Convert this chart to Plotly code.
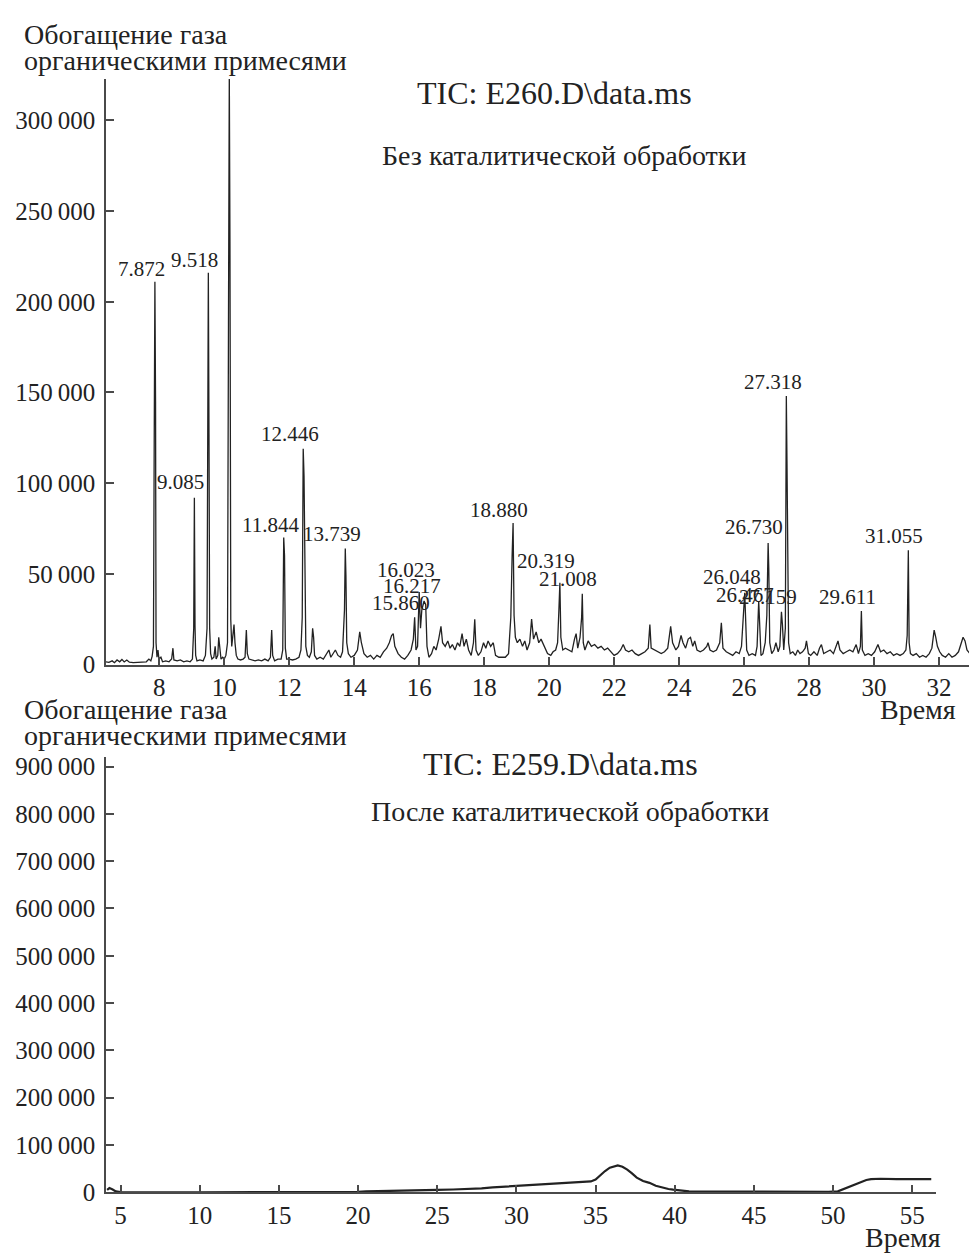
import plotly.graph_objects as go

W, H = 977, 1255
FONT = "Liberation Serif"
INK = "#222222"
AX = "#4a4a4a"

# ---------------- data: top chromatogram (TIC: E260.D) ----------------
# retention time, min
top_time = [
    6.36, 6.45, 6.55, 6.62, 6.70, 6.78, 6.85, 6.92, 7.00, 7.08, 7.20, 7.35, 7.50, 7.60, 7.68, 7.74, 7.78, 7.82,
    7.845, 7.865, 7.885, 7.90, 7.93, 7.96, 7.99, 8.05, 8.10, 8.20, 8.30, 8.38, 8.42, 8.45, 8.55, 8.65, 8.75,
    8.85, 8.95, 9.02, 9.06, 9.08, 9.10, 9.12, 9.16, 9.25, 9.35, 9.42, 9.47, 9.49, 9.51, 9.53, 9.55, 9.58,
    9.62, 9.68, 9.72, 9.75, 9.80, 9.83, 9.86, 9.90, 9.95, 10.00, 10.05, 10.10, 10.13, 10.155, 10.175, 10.20,
    10.23, 10.27, 10.30, 10.33, 10.37, 10.42, 10.50, 10.58, 10.64, 10.68, 10.71, 10.76, 10.85, 10.95, 11.05,
    11.15, 11.25, 11.35, 11.42, 11.46, 11.49, 11.55, 11.65, 11.75, 11.80, 11.83, 11.855, 11.88, 11.92, 12.00,
    12.10, 12.20, 12.30, 12.36, 12.40, 12.43, 12.455, 12.48, 12.51, 12.56, 12.62, 12.68, 12.72, 12.75, 12.78,
    12.85, 12.95, 13.05, 13.15, 13.22, 13.28, 13.35, 13.42, 13.50, 13.58, 13.64, 13.70, 13.725, 13.745, 13.77,
    13.82, 13.90, 14.00, 14.10, 14.17, 14.22, 14.30, 14.40, 14.50, 14.60, 14.70, 14.80, 14.90, 15.00, 15.08,
    15.15, 15.20, 15.25, 15.35, 15.45, 15.55, 15.65, 15.75, 15.82, 15.86, 15.90, 15.95, 16.00, 16.04, 16.08,
    16.15, 16.20, 16.24, 16.30, 16.38, 16.45, 16.52, 16.60, 16.67, 16.72, 16.80, 16.88, 16.95, 17.02, 17.10,
    17.18, 17.25, 17.32, 17.38, 17.45, 17.52, 17.60, 17.67, 17.71, 17.75, 17.82, 17.90, 17.98, 18.05, 18.12,
    18.20, 18.28, 18.35, 18.45, 18.55, 18.65, 18.75, 18.82, 18.86, 18.89, 18.92, 18.96, 19.02, 19.10, 19.18,
    19.25, 19.32, 19.40, 19.46, 19.52, 19.60, 19.68, 19.75, 19.85, 19.95, 20.05, 20.12, 20.20, 20.26, 20.30,
    20.33, 20.36, 20.42, 20.50, 20.60, 20.70, 20.78, 20.83, 20.88, 20.95, 21.00, 21.02, 21.05, 21.10, 21.20,
    21.30, 21.40, 21.50, 21.60, 21.70, 21.80, 21.90, 22.00, 22.10, 22.20, 22.28, 22.35, 22.45, 22.55, 22.65,
    22.75, 22.85, 22.95, 23.05, 23.10, 23.14, 23.25, 23.35, 23.45, 23.55, 23.65, 23.74, 23.80, 23.90, 23.98,
    24.06, 24.12, 24.20, 24.28, 24.35, 24.42, 24.48, 24.55, 24.65, 24.75, 24.85, 24.89, 24.95, 25.05, 25.15,
    25.25, 25.30, 25.35, 25.45, 25.55, 25.65, 25.75, 25.85, 25.92, 25.98, 26.02, 26.04, 26.08, 26.15, 26.25,
    26.35, 26.40, 26.45, 26.48, 26.52, 26.58, 26.65, 26.70, 26.74, 26.76, 26.79, 26.85, 26.92, 26.98, 27.05,
    27.10, 27.15, 27.18, 27.22, 27.27, 27.30, 27.32, 27.34, 27.37, 27.42, 27.50, 27.58, 27.65, 27.72, 27.80,
    27.88, 27.92, 27.98, 28.05, 28.15, 28.25, 28.32, 28.38, 28.45, 28.55, 28.65, 28.75, 28.82, 28.89, 28.95,
    29.05, 29.15, 29.25, 29.35, 29.45, 29.52, 29.58, 29.61, 29.64, 29.72, 29.82, 29.92, 30.02, 30.12, 30.20,
    30.30, 30.40, 30.50, 30.60, 30.70, 30.80, 30.90, 30.98, 31.02, 31.04, 31.055, 31.08, 31.12, 31.20, 31.30,
    31.40, 31.50, 31.60, 31.70, 31.78, 31.85, 31.90, 31.95, 32.02, 32.10, 32.20, 32.30, 32.40, 32.50, 32.60,
    32.68, 32.74, 32.80, 32.86, 32.95, 33.05, 33.15, 33.25, 33.40,
]
# abundance, thousands of counts
top_signal = [
    1.5, 1.2, 2.0, 1.0, 2.5, 1.5, 2.8, 1.4, 2.5, 1.3, 1.0, 1.2, 1.0, 1.5, 3.0, 2.0, 4.5, 10,
    128, 211, 145, 12, 4, 8, 3, 4, 1.5, 2, 1.5, 3, 9, 2.5, 2, 2.5, 1.5,
    2, 1.5, 3, 20, 92, 21, 5, 2, 2.5, 2, 5, 20, 137, 216, 127, 20, 6,
    3, 4, 10, 3, 5, 15, 8, 3, 4, 3, 5, 12, 188, 326, 233, 25,
    10, 16, 22, 12, 5, 3, 2.5, 3, 4, 19, 6, 3, 2.5, 2, 2.5,
    2.0, 3, 2, 4, 19, 5, 2, 3, 3, 8, 70, 60, 9, 3, 3,
    2.5, 3, 4, 8, 26, 119, 104, 36, 10, 5, 4, 7, 20, 15, 5,
    3, 4, 3, 6, 8, 4, 6, 8, 5, 4, 7, 30, 64, 49, 12,
    6, 4, 5, 8, 18, 12, 6, 4, 5, 3, 5, 4, 7, 9, 12,
    16, 17, 10, 6, 4, 3, 5, 8, 14, 26, 8, 10, 40, 20, 30,
    35, 33, 10, 4, 6, 10, 8, 14, 21, 12, 10, 13, 9, 11, 8,
    12, 10, 17, 10, 14, 8, 5, 12, 25, 8, 5, 7, 12, 9, 13,
    10, 12, 5, 4, 4, 4, 6, 26, 60, 78, 27, 15, 12, 14, 10,
    13, 8, 12, 25, 14, 18, 12, 14, 10, 6, 5, 7, 8, 12, 30,
    45, 15, 8, 9, 8, 7, 14, 17, 9, 15, 26, 39, 12, 8, 13,
    10, 11, 9, 10, 8, 9, 7, 5, 6, 8, 11, 8, 7, 8, 6,
    5, 6, 7, 9, 22, 9, 8, 7, 6, 7, 9, 21, 12, 8, 10,
    16, 12, 9, 14, 15, 10, 13, 8, 7, 8, 10, 12, 8, 7, 8,
    12, 23, 9, 7, 6, 5, 7, 6, 10, 25, 39.5, 29, 8, 5, 6,
    5, 10, 35, 20, 5, 6, 12, 27, 67, 53, 12, 6, 8, 12, 7,
    10, 29, 22, 8, 20, 148, 112, 67, 12, 6, 7, 5, 8, 6, 7,
    9, 13, 6, 5, 7, 5, 9, 11, 6, 7, 8, 6, 9, 13, 8,
    6, 7, 8, 7, 11, 6, 10, 29.5, 8, 5, 6, 5, 7, 11, 7,
    8, 6, 7, 5, 6, 5, 6, 8, 16, 45, 63, 12, 6, 5, 6,
    4, 5, 4, 6, 9, 19, 15, 10, 7, 5, 4, 6, 4, 5, 7,
    12, 15, 13, 8, 6, 5, 6, 4, 5,
]

peak_labels = ["7.872", "9.085", "9.518", "11.844", "12.446", "13.739", "15.860", "16.023", "16.217",
               "18.880", "20.319", "21.008", "26.048", "26.467", "26.730", "27.159", "27.318", "29.611", "31.055"]
# intensity (thousands) at which each retention-time label sits
peak_label_level = [212, 94.5, 217, 71, 121, 66, 28, 46, 37,
                    79, 51, 41, 42, 32, 69.6, 31, 149.6, 31, 65]

top_y_ticks = [0, 50, 100, 150, 200, 250, 300]
top_y_ticktext = ["0", "50\u2009000", "100\u2009000", "150\u2009000", "200\u2009000", "250\u2009000", "300\u2009000"]
top_x_ticks = [8, 10, 12, 14, 16, 18, 20, 22, 24, 26, 28, 30, 32]

# ---------------- data: bottom chromatogram (TIC: E259.D) ----------------
bot_time = [4.15, 4.3, 4.5, 4.7, 4.9, 5.1, 10.0, 15.0, 19.2, 19.6, 20.0, 20.5, 22.0, 23.5, 25.0, 26.0, 26.9,
            27.8, 28.5, 29.3, 30.0, 31.0, 32.0, 33.1, 34.3, 34.7, 35.0, 35.3, 35.6, 35.9, 36.2, 36.4, 36.7,
            37.0, 37.3, 37.6, 38.0, 38.4, 38.8, 39.2, 39.6, 39.9, 40.4, 40.9, 42.0, 44.0, 46.0, 48.0, 49.7,
            50.3, 50.6, 51.0, 51.4, 51.8, 52.1, 52.4, 53.0, 54.0, 55.0, 56.2]
bot_signal = [5, 9, 6, 2, 1, 0, 0, 0, 0.5, 1, 1, 2, 2.5, 3.5, 5, 6, 7,
              8.5, 10.5, 12, 13, 15, 17.5, 19, 21.7, 23, 27, 37, 45, 52, 56, 57, 54,
              48, 40, 31, 24, 20, 14, 10, 7, 5.6, 3.5, 2, 1.5, 1, 1, 1, 1.2,
              2, 6, 12.6, 18, 23, 26, 28, 28.7, 28, 28.5, 28]

bot_y_ticks = [0, 100, 200, 300, 400, 500, 600, 700, 800, 900]
bot_y_ticktext = ["0"] + [f"{v}\u2009000" for v in bot_y_ticks[1:]]
bot_x_ticks = [5, 10, 15, 20, 25, 30, 35, 40, 45, 50, 55]

# ---------------- layout helpers (pixel -> paper) ----------------
def px(x):
    return x / W

def py(y):
    return 1 - y / H

fig = go.Figure()
fig.add_trace(go.Scatter(x=top_time, y=top_signal, mode="lines",
                         line=dict(color=INK, width=1.3), xaxis="x", yaxis="y",
                         showlegend=False, hoverinfo="skip"))
fig.add_trace(go.Scatter(x=bot_time, y=bot_signal, mode="lines",
                         line=dict(color=INK, width=2.2), xaxis="x2", yaxis="y2",
                         showlegend=False, hoverinfo="skip"))

axis_common = dict(showgrid=False, zeroline=False, showline=True, linecolor=AX, linewidth=1.6,
                   ticks="inside", ticklen=8, tickwidth=1.5, tickcolor=AX,
                   tickfont=dict(family=FONT, size=25, color=INK))

fig.update_layout(
    width=W, height=H,
    margin=dict(l=0, r=0, t=0, b=0),
    paper_bgcolor="white", plot_bgcolor="white",
    showlegend=False,
    xaxis=dict(domain=[px(98), 1.0], range=[6.36, 33.415], tickmode="array", tickvals=top_x_ticks,
               anchor="y", ticklabelstandoff=0, **axis_common),
    yaxis=dict(domain=[py(662), py(68)], range=[0, 322.8], tickmode="array", tickvals=top_y_ticks,
               ticktext=top_y_ticktext, anchor="x", ticklabelstandoff=4, **axis_common),
    xaxis2=dict(domain=[px(98), px(928)], range=[4.08, 56.5], tickmode="array", tickvals=bot_x_ticks,
                anchor="y2", ticklabelstandoff=0, **axis_common),
    yaxis2=dict(domain=[py(1197.5), py(755.9)], range=[0, 920], tickmode="array", tickvals=bot_y_ticks,
                ticktext=bot_y_ticktext, anchor="x2", ticklabelstandoff=4, **axis_common),
)

ann = []
# peak labels
for lab, lev in zip(peak_labels, peak_label_level):
    ann.append(dict(x=float(lab), y=lev, xref="x", yref="y", text=lab, showarrow=False,
                    xanchor="center", yanchor="bottom", xshift=-14, yshift=-3,
                    font=dict(family=FONT, size=21, color=INK)))

def txt(text, x, y, size, xanchor="left"):
    ann.append(dict(x=px(x), y=py(y), xref="paper", yref="paper", text=text, showarrow=False,
                    xanchor=xanchor, yanchor="middle", font=dict(family=FONT, size=size, color=INK)))

# top panel texts
txt("Обогащение газа", 14, 23, 28)
txt("органическими примесями", 14, 49, 28)
txt("TIC: E260.D\\data.ms", 546, 82, 32, "center")
txt("Без каталитической обработки", 556, 146, 28, "center")
txt("Время", 950, 708, 28, "right")
# bottom panel texts
txt("Обогащение газа", 14, 708, 28)
txt("органическими примесями", 14, 734, 28)
txt("TIC: E259.D\\data.ms", 552, 763, 32, "center")
txt("После каталитической обработки", 562, 811, 28, "center")
txt("Время", 935, 1243, 28, "right")

fig.update_layout(annotations=ann)
fig.write_html("out.html")
